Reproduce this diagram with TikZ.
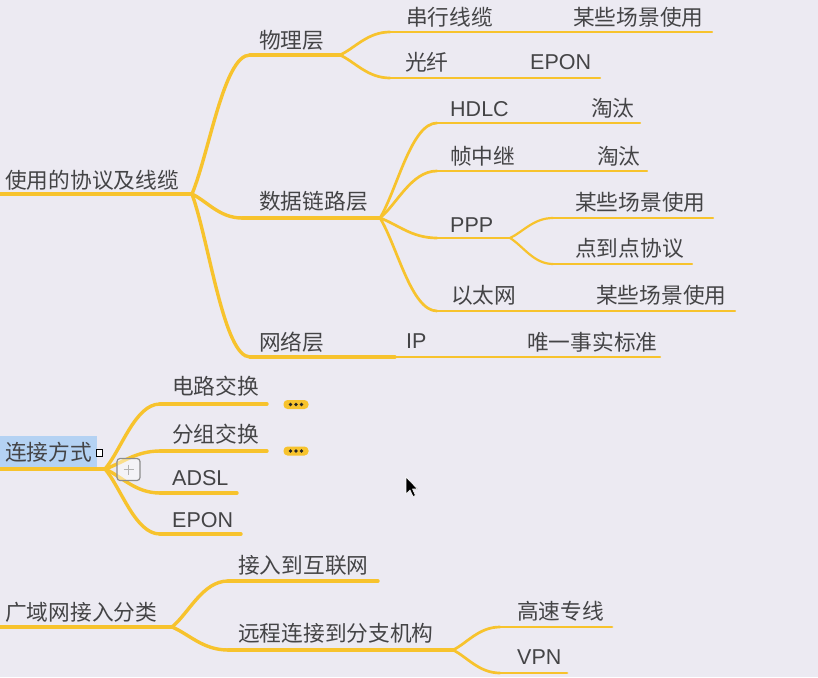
\documentclass[tikz,border=0pt]{standalone}
\usepackage{fontspec}
\setmainfont{Noto Sans CJK SC}
\newfontfamily\latf{Liberation Sans}
\usetikzlibrary{calc}
\definecolor{bg}{RGB}{236,234,242}
\definecolor{ln}{RGB}{247,195,45}
\definecolor{tx}{RGB}{68,68,70}
\definecolor{sel}{RGB}{180,210,243}
\tikzset{
  t/.style={anchor=west, inner sep=0pt, text=tx, font=\fontsize{21.7}{26}\selectfont},
  tl/.style={anchor=west, inner sep=0pt, text=tx, font=\latf\fontsize{21.5}{26}\selectfont},
  wa/.style={draw=ln, line width=4.5pt, line cap=round},
  wb/.style={draw=ln, line width=3.4pt, line cap=round},
  wc/.style={draw=ln, line width=2.7pt, line cap=round},
  wd/.style={draw=ln, line width=2.2pt, line cap=round},
  pill/.style={fill=ln, rounded corners=4pt, minimum width=25pt, minimum height=9pt, inner sep=0pt},
  dotc/.style={circle, fill=black!85, inner sep=0pt, minimum size=3.6pt},
}
\newcommand\mmc[3]{\draw[#1] let \p1=(#2), \p2=(#3) in (#2) .. controls ({\x1+0.3*(\x2-\x1)},{\y1+0.3*(\y2-\y1)}) and ({\x1+0.55*(\x2-\x1)},{\y2}) .. (#3);}
\begin{document}
\begin{tikzpicture}[x=1pt,y=-1pt]
\fill[bg] (0,0) rectangle (818,677);
\useasboundingbox (0,0) rectangle (818,677);

% ---------- root 1 ----------
\coordinate (r1s) at (0,194);
\coordinate (r1) at (192,194);
\coordinate (a1) at (250,55);  \coordinate (fa) at (340,55);
\coordinate (a2) at (242,218); \coordinate (fb) at (380,218);
\coordinate (a3) at (250,357); \coordinate (a3m) at (395,357); \coordinate (a3n) at (515,357); \coordinate (a3e) at (660,357);
\coordinate (b1) at (390,32); \coordinate (b1m) at (515,32); \coordinate (b1e) at (712,32);
\coordinate (b2) at (390,78); \coordinate (b2m) at (505,78); \coordinate (b2e) at (600,78);
\coordinate (c1) at (437,123); \coordinate (c1m) at (517,123); \coordinate (c1e) at (640,123);
\coordinate (c2) at (437,171); \coordinate (c2m) at (520,171); \coordinate (c2e) at (647,171);
\coordinate (c3) at (437,238); \coordinate (fc) at (510,238);
\coordinate (d1) at (553,218); \coordinate (d1e) at (713,218);
\coordinate (d2) at (553,264); \coordinate (d2e) at (692,264);
\coordinate (c4) at (437,311); \coordinate (c4m) at (520,311); \coordinate (c4e) at (735,311);

\draw[wa] (r1s) -- (r1);
\mmc{wb}{r1}{a1} \draw[wb] (a1) -- (fa);
\mmc{wb}{r1}{a2} \draw[wb] (a2) -- (fb);
\mmc{wb}{r1}{a3} \draw[wb] (a3) -- (a3m);
\draw[wc] (a3m) -- (a3n); \draw[wd] (a3n) -- (a3e);
\mmc{wc}{fa}{b1} \draw[wc] (b1) -- (b1m); \draw[wd] (b1m) -- (b1e);
\mmc{wc}{fa}{b2} \draw[wc] (b2) -- (b2m); \draw[wd] (b2m) -- (b2e);
\mmc{wc}{fb}{c1} \draw[wc] (c1) -- (c1m); \draw[wd] (c1m) -- (c1e);
\mmc{wc}{fb}{c2} \draw[wc] (c2) -- (c2m); \draw[wd] (c2m) -- (c2e);
\mmc{wc}{fb}{c3} \draw[wc] (c3) -- (fc);
\mmc{wd}{fc}{d1} \draw[wd] (d1) -- (d1e);
\mmc{wd}{fc}{d2} \draw[wd] (d2) -- (d2e);
\mmc{wc}{fb}{c4} \draw[wc] (c4) -- (c4m); \draw[wd] (c4m) -- (c4e);

\node[t] (n1) at (5,180) {使用的协议及线缆};
\node[t] (n11) at (259,40) {物理层};
\node[t] (n111) at (406,17) {串行线缆};
\node[t] (n1111) at (573,17) {某些场景使用};
\node[t] (n112) at (405,62) {光纤};
\node[tl] (n1121) at (530,62) {EPON};
\node[t] (n12) at (259,201) {数据链路层};
\node[tl] (n121) at (450,109) {HDLC};
\node[t] (n1211) at (591,108) {淘汰};
\node[t] (n122) at (450,156) {帧中继};
\node[t] (n1221) at (597,156) {淘汰};
\node[tl] (n123) at (450,225) {PPP};
\node[t] (n1231) at (575,202) {某些场景使用};
\node[t] (n1232) at (575,248) {点到点协议};
\node[t] (n124) at (451,295) {以太网};
\node[t] (n1241) at (596,295) {某些场景使用};
\node[t] (n13) at (259,342) {网络层};
\node[tl] (n131) at (406,341) {IP};
\node[t] (n1311) at (527,342) {唯一事实标准};

% ---------- root 2 ----------
\fill[sel] (0,436) rectangle (97,468);
\coordinate (r2s) at (0,469);
\coordinate (r2) at (105,469);
\coordinate (e1) at (160,404); \coordinate (e1e) at (267,404);
\coordinate (e2) at (160,451); \coordinate (e2e) at (267,451);
\coordinate (e3) at (160,493); \coordinate (e3e) at (237,493);
\coordinate (e4) at (160,534); \coordinate (e4e) at (241,534);
\draw[wa] (r2s) -- (r2);
\mmc{wb}{r2}{e1} \draw[wb] (e1) -- (e1e);
\mmc{wb}{r2}{e2} \draw[wb] (e2) -- (e2e);
\mmc{wb}{r2}{e3} \draw[wb] (e3) -- (e3e);
\mmc{wb}{r2}{e4} \draw[wb] (e4) -- (e4e);
\node[t] (n2) at (5,452) {连接方式};
\node[draw=black, line width=1.3pt, fill=white, inner sep=0pt, minimum size=6.5pt] (sq) at (99.5,453) {};
\node[draw=black!45, line width=1.2pt, fill=white, fill opacity=0.45, rounded corners=3pt, minimum width=23pt, minimum height=22pt, inner sep=0pt] (plus) at (128.5,469.5) {};
\draw[black!30, line width=1pt] (123.5,469.5) -- (133.5,469.5) (128.5,464.5) -- (128.5,474.5);
\node[t] (n21) at (172,386) {电路交换};
\node[t] (n22) at (172,434) {分组交换};
\node[tl] (n23) at (172,478) {ADSL};
\node[tl] (n24) at (172,520) {EPON};
\node[pill] (p1) at (296,404.5) {};
\node[pill] (p2) at (296,451) {};
\foreach \p in {p1,p2} {
  \node[dotc] at ($(\p)+(-5.5,0)$) {};
  \node[dotc] at (\p) {};
  \node[dotc] at ($(\p)+(5.5,0)$) {};
}

% ---------- root 3 ----------
\coordinate (r3s) at (0,627);
\coordinate (r3) at (172,627);
\coordinate (g1) at (228,581); \coordinate (g1e) at (378,581);
\coordinate (g2) at (228,650); \coordinate (fg) at (453,650);
\coordinate (h1) at (500,627); \coordinate (h1e) at (612,627);
\coordinate (h2) at (500,673); \coordinate (h2e) at (567,673);
\draw[wa] (r3s) -- (r3);
\mmc{wb}{r3}{g1} \draw[wb] (g1) -- (g1e);
\mmc{wb}{r3}{g2} \draw[wb] (g2) -- (fg);
\mmc{wc}{fg}{h1} \draw[wc] (h1) -- (h1e);
\mmc{wc}{fg}{h2} \draw[wc] (h2) -- (h2e);
\node[t] (n3) at (5,612) {广域网接入分类};
\node[t] (n31) at (238,565) {接入到互联网};
\node[t] (n32) at (238,633) {远程连接到分支机构};
\node[t] (n321) at (517,611) {高速专线};
\node[tl] (n322) at (517,657) {VPN};

% mouse cursor
\filldraw[fill=black, draw=white, line width=0.6pt, line join=round]
  (406,477) -- (406,494) -- (410,490) -- (413,496.5) -- (415.5,495.5) -- (412.5,489) -- (417.5,489) -- cycle;
\end{tikzpicture}
\end{document}
